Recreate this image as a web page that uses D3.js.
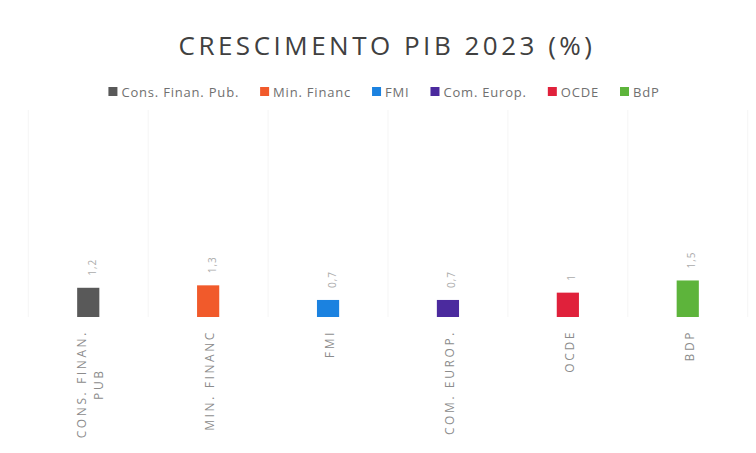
<!DOCTYPE html>
<html>
<head>
<meta charset="utf-8">
<script src="https://cdn.jsdelivr.net/npm/d3@7"></script>
<style>
  body { margin: 0; background: #fff; }
  svg { font-family: 'Open Sans', sans-serif; }
</style>
</head>
<body>
<div id="vis"></div>
<script>
// dados do grafico
var categories = ['CONS. FINAN. PUB', 'MIN. FINANC', 'FMI', 'COM. EUROP.', 'OCDE', 'BDP'];
var legendNames = ['Cons. Finan. Pub.', 'Min. Financ', 'FMI', 'Com. Europ.', 'OCDE', 'BdP'];
var values = [1.2, 1.3, 0.7, 0.7, 1, 1.5];
var colors = ['#595959', '#f15a2b', '#1b82e0', '#4b2a9e', '#e0213b', '#5db43b'];
var labelLines = [['CONS. FINAN.', 'PUB'], ['MIN. FINANC'], ['FMI'], ['COM. EUROP.'], ['OCDE'], ['BDP']];

var width = 756, height = 453;
var margin = { left: 28, right: 8, top: 110, bottom: 136 };

var svg = d3.select('#vis')
    .append('svg')
    .attr('width', width)
    .attr('height', height);

var xScale = d3.scaleBand()
    .domain(categories)
    .range([margin.left, width - margin.right])
    .paddingInner(0.815)
    .paddingOuter(0.41);

var yScale = d3.scaleLinear()
    .domain([0, 8.5])
    .range([height - margin.bottom, margin.top]);

// linhas verticais quase invisiveis entre categorias
var step = xScale.step();
var gridX = d3.range(categories.length + 1).map(function(i) {
    return xScale(categories[0]) + xScale.bandwidth() / 2 - step / 2 + i * step;
});
svg.append('g').selectAll('line')
    .data(gridX)
    .enter().append('line')
    .attr('x1', function(d) { return d; })
    .attr('x2', function(d) { return d; })
    .attr('y1', margin.top)
    .attr('y2', yScale(0))
    .attr('stroke', '#f5f5f5')
    .attr('stroke-width', 1);

// titulo
svg.append('text')
    .attr('x', 387)
    .attr('y', 55)
    .attr('text-anchor', 'middle')
    .style('font-size', '26px')
    .style('letter-spacing', '3.5px')
    .style('fill', '#404040')
    .text('CRESCIMENTO PIB 2023 (%)');

// legenda
var legend = svg.append('g');
var lx = 0;
legendNames.forEach(function(name, i) {
    var item = legend.append('g').attr('transform', 'translate(' + lx + ',0)');
    item.append('rect')
        .attr('x', 0).attr('y', -5)
        .attr('width', 9).attr('height', 9)
        .attr('fill', colors[i]);
    var t = item.append('text')
        .attr('x', 13)
        .attr('y', 0)
        .attr('dy', '0.35em')
        .style('font-size', '13px')
        .style('letter-spacing', '0.8px')
        .style('fill', '#707070')
        .text(name);
    lx += 13 + t.node().getComputedTextLength() + 21;
});
var legendW = lx - 21;
legend.attr('transform', 'translate(' + (384 - legendW / 2) + ',92)');

// barras
var bars = svg.append('g');
bars.selectAll('rect')
    .data(values)
    .enter().append('rect')
    .attr('x', function(d, i) { return xScale(categories[i]); })
    .attr('y', function(d) { return yScale(d); })
    .attr('width', xScale.bandwidth())
    .attr('height', function(d) { return yScale(0) - yScale(d); })
    .attr('fill', function(d, i) { return colors[i]; });

// rotulos de valor (rodados)
var fmt = function(v) { return String(v).replace('.', ','); };
bars.selectAll('text.val')
    .data(values)
    .enter().append('text')
    .attr('class', 'val')
    .attr('transform', function(d, i) {
        var cx = xScale(categories[i]) + xScale.bandwidth() / 2 + 4;
        return 'translate(' + cx + ',' + (yScale(d) - 12) + ') rotate(-90)';
    })
    .attr('dy', '0.35em')
    .style('font-size', '10px')
    .style('letter-spacing', '1px')
    .style('fill', '#ababab')
    .text(fmt);

// rotulos de categoria (rodados, com quebra)
var labelTop = yScale(0) + 13;
labelLines.forEach(function(lines, i) {
    var cx = xScale(categories[i]) + xScale.bandwidth() / 2 + 2;
    var lh = 17;
    var g = svg.append('g');
    var texts = lines.map(function(line) {
        return g.append('text')
            .attr('text-anchor', 'middle')
            .attr('dy', '0.35em')
            .style('font-size', '12px')
            .style('letter-spacing', '2.6px')
            .style('fill', '#8c8c8c')
            .text(line);
    });
    var maxW = d3.max(texts, function(t) { return t.node().getComputedTextLength(); });
    texts.forEach(function(t, j) {
        var x = cx - (lines.length - 1) * lh / 2 + j * lh;
        var y = labelTop + maxW / 2;
        t.attr('transform', 'translate(' + x + ',' + y + ') rotate(-90)');
    });
});
</script>
</body>
</html>
